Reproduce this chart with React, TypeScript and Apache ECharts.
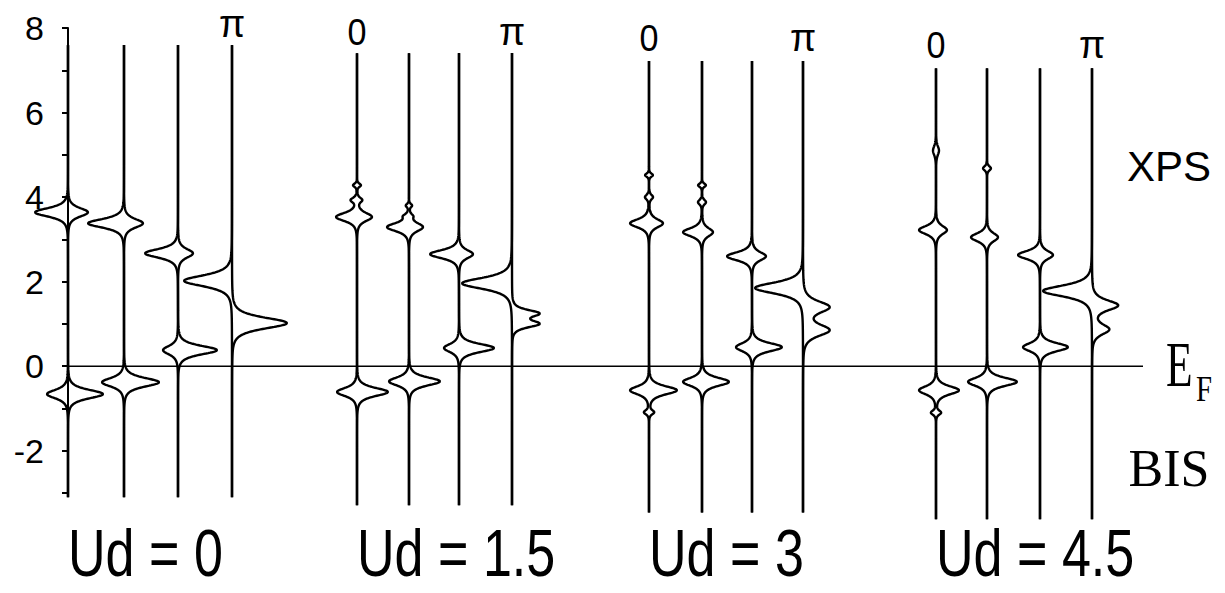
import { useEffect, useRef } from "react";
import * as echarts from "echarts";

// Each peak: [energy (eV), weight drawn to the left, weight drawn to the right, half width (eV)]
type Peak = [number, number, number, number];

const energyTicks = [-2, 0, 2, 4, 6, 8];
const panelTitles = ["Ud = 0", "Ud = 1.5", "Ud = 3", "Ud = 4.5"];
const kLabels = ["0", "π"];

// Spectral weight along the four k-points (0 ... π) for every Ud
const ud0Peaks: Peak[][] = [
  [[3.64, 33, 20, 0.19], [-0.66, 21, 35, 0.19]],
  [[3.38, 36, 19, 0.19], [-0.38, 22, 35, 0.19]],
  [[2.67, 33, 15, 0.19], [0.38, 15, 39, 0.19]],
  [[2.02, 48, 0, 0.24], [1.02, 0, 55, 0.24]],
];

const ud15Peaks: Peak[][] = [
  [[4.28, 4, 4, 0.07], [3.93, 6, 5, 0.1], [3.53, 21, 15, 0.18], [-0.61, 20, 31, 0.18]],
  [[3.8, 3, 3, 0.07], [3.55, 4, 3, 0.09], [3.29, 22, 14, 0.18], [-0.36, 20, 31, 0.18]],
  [[2.65, 29, 14, 0.18], [0.43, 15, 35, 0.18]],
  [[1.96, 50, 0, 0.24], [1.25, 0, 26, 0.15], [1.0, 0, 26, 0.15]],
];

const ud3Peaks: Peak[][] = [
  [[4.52, 4, 4, 0.07], [4.0, 4, 4, 0.1], [3.38, 19, 14, 0.18], [-0.57, 19, 28, 0.18], [-1.09, 5, 5, 0.09]],
  [[4.28, 4, 4, 0.07], [3.88, 4, 4, 0.1], [3.17, 19, 11, 0.18], [-0.37, 19, 27, 0.18]],
  [[2.6, 25, 14, 0.18], [0.45, 16, 30, 0.18]],
  [[1.85, 48, 0, 0.24], [1.4, 0, 26, 0.25], [0.85, 0, 26, 0.25]],
];

const ud45Peaks: Peak[][] = [
  [[5.1, 3, 3, 0.2], [3.22, 17, 11, 0.18], [-0.57, 17, 23, 0.18], [-1.1, 5, 5, 0.09]],
  [[4.68, 4, 4, 0.09], [3.05, 16, 11, 0.18], [-0.37, 19, 30, 0.18]],
  [[2.63, 22, 13, 0.18], [0.45, 17, 28, 0.18]],
  [[1.78, 49, 0, 0.24], [1.44, 0, 26, 0.22], [0.87, 0, 17, 0.22]],
];

const panels = [ud0Peaks, ud15Peaks, ud3Peaks, ud45Peaks];

// ---- layout ----
const W = 1225;
const H = 593;
const AXIS_X = 68; // pixel column of the energy axis (x value 0)
const GRID_TOP = 28;
const GRID_BOTTOM = 100;
const lineSlots = [
  [0, 56, 110, 164],
  [289, 341, 391, 444],
  [581, 634, 684, 735],
  [868, 919, 972, 1024],
];
const panelSpans: [number, number][] = [
  [-3.1, 7.6],
  [-3.29, 7.41],
  [-3.46, 7.22],
  [-3.62, 7.05],
];
const kLabelY = [24, 32, 38, 45];
const EF_END = 1075;
const STEP = 0.01;

const SANS = "'Liberation Sans', Arial, sans-serif";
const SERIF = "'Liberation Serif', 'Times New Roman', serif";

// squared-Lorentzian line shape
function weightAt(peaks: Peak[], side: 1 | 2, e: number): number {
  let s = 0;
  for (const p of peaks) {
    const d = (e - p[0]) / p[3];
    const l = 1 / (1 + d * d);
    s += p[side] * l * l;
  }
  return s;
}

function traceSide(base: number, peaks: Peak[], span: [number, number], side: 1 | 2): number[][] {
  const es: number[] = [];
  const n = Math.round((span[1] - span[0]) / STEP);
  for (let i = 0; i <= n; i++) es.push(span[0] + i * STEP);
  peaks.forEach((p) => {
    if (p[side] > 0) es.push(p[0]);
  });
  es.sort((a, b) => a - b);
  const dir = side === 1 ? -1 : 1;
  return es.map((e) => [base + dir * weightAt(peaks, side, e), e]);
}

function textEl(
  text: string,
  x: number,
  y: number,
  fontSize: number,
  fontFamily: string,
  align: "left" | "center" | "right",
  scaleX = 1,
  scaleY = 1
) {
  return {
    type: "text",
    x,
    y,
    scaleX,
    scaleY,
    silent: true,
    style: {
      text,
      fontSize,
      fontFamily,
      fill: "#000",
      textAlign: align,
      textVerticalAlign: "middle",
      align,
      verticalAlign: "middle",
    },
  };
}

export default function App() {
  const ref = useRef<HTMLDivElement>(null);

  useEffect(() => {
    if (!ref.current) return;
    const chart = echarts.init(ref.current, undefined, { renderer: "svg" });

    const series: any[] = [];
    panels.forEach((lines, pi) => {
      lines.forEach((peaks, li) => {
        const base = lineSlots[pi][li];
        ([1, 2] as const).forEach((side) => {
          series.push({
            type: "line",
            data: traceSide(base, peaks, panelSpans[pi], side),
            showSymbol: false,
            symbol: "none",
            clip: false,
            silent: true,
            lineStyle: { color: "#000", width: 2.4 },
            z: 3,
          });
        });
      });
    });

    // Fermi level
    series.push({
      type: "line",
      data: [
        [0, 0],
        [EF_END, 0],
      ],
      showSymbol: false,
      symbol: "none",
      clip: false,
      silent: true,
      lineStyle: { color: "#000", width: 1.6 },
      z: 2,
    });

    const graphics: any[] = [];
    panels.forEach((_, pi) => {
      const y = kLabelY[pi];
      if (pi > 0) {
        graphics.push(textEl(kLabels[0], AXIS_X + lineSlots[pi][0], y, 36, SANS, "center", 0.95));
      }
      graphics.push(textEl(kLabels[1], AXIS_X + lineSlots[pi][3], y, 38, SANS, "center"));
      graphics.push(
        textEl(panelTitles[pi], AXIS_X + lineSlots[pi][0], 553, 62, SANS, "left", 0.84, 1.08)
      );
    });
    graphics.push(textEl("XPS", 1169, 166, 42, SANS, "center"));
    graphics.push(textEl("E", 1166, 364, 64, SERIF, "left", 0.68));
    graphics.push(textEl("F", 1196, 389, 36, SERIF, "left", 0.8));
    graphics.push(textEl("BIS", 1169, 468, 52, SERIF, "center"));

    chart.setOption({
      animation: false,
      backgroundColor: "#fff",
      grid: {
        left: 0,
        right: 0,
        top: GRID_TOP,
        bottom: GRID_BOTTOM,
        containLabel: false,
        outerBoundsMode: "none",
      },
      xAxis: { type: "value", min: -AXIS_X, max: W - AXIS_X, show: false },
      yAxis: {
        type: "value",
        position: "left",
        offset: -AXIS_X,
        min: -3,
        max: 8,
        interval: 1,
        axisLine: { show: true, onZero: false, lineStyle: { color: "#000", width: 2 } },
        axisTick: { show: true, length: 6, lineStyle: { color: "#000", width: 2 } },
        splitLine: { show: false },
        axisLabel: {
          color: "#000",
          fontSize: 34,
          fontFamily: SANS,
          margin: 24,
          formatter: (v: number) => (energyTicks.includes(v) ? String(v) : ""),
        },
      },
      series,
      graphic: graphics,
    });

    return () => chart.dispose();
  }, []);

  return (
    <div
      ref={ref}
      style={{ position: "fixed", left: 0, top: 0, width: W, height: H, background: "#fff" }}
    />
  );
}
